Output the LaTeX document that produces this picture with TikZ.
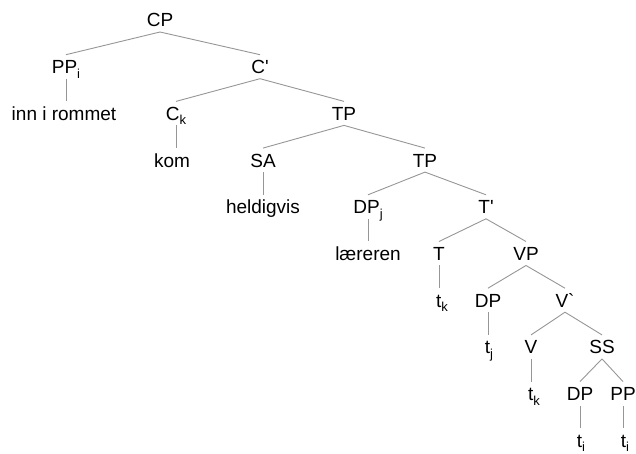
\documentclass[tikz,border=0pt]{standalone}
\usepackage{fontspec}
\setmainfont{Liberation Sans}[Ligatures=TeXOff]
\newcommand\sub[1]{\raisebox{-4.5pt}{\fontsize{13}{13}\selectfont #1}}
\definecolor{edgegray}{RGB}{150,150,150}
\begin{document}
\begin{tikzpicture}[x=1pt,y=1pt,
  lab/.style={anchor=base, inner sep=0pt, text height=14pt, text depth=0pt, outer ysep=5pt, font=\fontsize{19}{23}\selectfont},
  edge/.style={draw=edgegray, line width=0.9pt}]
\useasboundingbox (0,0) rectangle (636,454);
% row 0
\node[lab] (cp) at (160,427) {CP};
% row 1
\node[lab] (pp) at (66,380.3) {PP\sub{i}};
\node[lab] (cbar) at (260,380.3) {C'};
% row 2
\node[lab] (inn) at (64,333.6) {inn i rommet};
\node[lab] (ck) at (176,333.6) {C\sub{k}};
\node[lab] (tpa) at (344,333.6) {TP};
% row 3
\node[lab] (kom) at (172,286.9) {kom};
\node[lab] (sa) at (263,286.9) {SA};
\node[lab] (tpb) at (425,286.9) {TP};
% row 4
\node[lab] (held) at (263,240.2) {heldigvis};
\node[lab] (dpj) at (368,240.2) {DP\sub{j}};
\node[lab] (tbar) at (486,240.2) {T'};
% row 5
\node[lab] (laer) at (368,193.5) {læreren};
\node[lab] (t) at (439,193.5) {T};
\node[lab] (vp) at (526,193.5) {VP};
% row 6
\node[lab] (tka) at (442,146.8) {t\sub{k}};
\node[lab] (dpa) at (488,146.8) {DP};
\node[lab] (vbar) at (565,146.8) {V`};
% row 7
\node[lab] (tj) at (489,100.1) {t\sub{j}};
\node[lab] (v) at (531,100.1) {V};
\node[lab] (ss) at (602,100.1) {SS};
% row 8
\node[lab] (tkb) at (534,53.4) {t\sub{k}};
\node[lab] (dpb) at (580,53.4) {DP};
\node[lab] (ppb) at (623,53.4) {PP};
% row 9
\node[lab] (tia) at (581,6.7) {t\sub{i}};
\node[lab] (tib) at (625,6.7) {t\sub{i}};
% edges
\draw[edge] (cp.south) -- (pp.north);
\draw[edge] (cp.south) -- (cbar.north);
\draw[edge] (pp.south) -- (pp.south |- inn.north);
\draw[edge] (cbar.south) -- (ck.north);
\draw[edge] (cbar.south) -- (tpa.north);
\draw[edge] (ck.south) -- (ck.south |- kom.north);
\draw[edge] (tpa.south) -- (sa.north);
\draw[edge] (tpa.south) -- (tpb.north);
\draw[edge] (sa.south) -- (sa.south |- held.north);
\draw[edge] (tpb.south) -- (dpj.north);
\draw[edge] (tpb.south) -- (tbar.north);
\draw[edge] (dpj.south) -- (dpj.south |- laer.north);
\draw[edge] (tbar.south) -- (t.north);
\draw[edge] (tbar.south) -- (vp.north);
\draw[edge] (t.south) -- (t.south |- tka.north);
\draw[edge] (vp.south) -- (dpa.north);
\draw[edge] (vp.south) -- (vbar.north);
\draw[edge] (dpa.south) -- (dpa.south |- tj.north);
\draw[edge] (vbar.south) -- (v.north);
\draw[edge] (vbar.south) -- (ss.north);
\draw[edge] (v.south) -- (v.south |- tkb.north);
\draw[edge] (ss.south) -- (dpb.north);
\draw[edge] (ss.south) -- (ppb.north);
\draw[edge] (dpb.south) -- (dpb.south |- tia.north);
\draw[edge] (ppb.south) -- (ppb.south |- tib.north);
\end{tikzpicture}
\end{document}
